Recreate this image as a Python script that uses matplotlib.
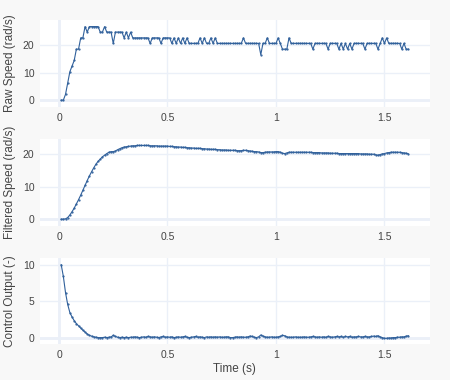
import numpy as np
import matplotlib.pyplot as plt

# time axis, 10 ms sampling
t = np.arange(1, 162) * 0.01

raw_speed = [
    0.0, 0.0, 2.1, 6.2, 10.3, 12.4, 14.4, 18.5, 18.5, 22.6,
    22.6, 26.7, 24.7, 26.7, 26.7, 26.7, 26.7, 26.7, 24.7, 24.7,
    26.7, 24.7, 24.7, 24.7, 20.6, 24.7, 24.7, 24.7, 24.7, 22.6,
    24.7, 22.6, 24.7, 22.6, 22.6, 22.6, 22.6, 22.6, 22.6, 22.6,
    22.6, 20.6, 22.6, 22.6, 22.6, 22.6, 20.6, 22.6, 22.6, 22.6,
    22.6, 20.6, 22.6, 20.6, 22.6, 20.6, 22.6, 20.6, 22.6, 20.6,
    20.6, 20.6, 20.6, 20.6, 22.6, 20.6, 22.6, 20.6, 20.6, 22.6,
    20.6, 22.6, 20.6, 20.6, 20.6, 20.6, 20.6, 20.6, 20.6, 20.6,
    20.6, 20.6, 20.6, 20.6, 22.6, 20.6, 20.6, 20.6, 20.6, 20.6,
    20.6, 20.6, 16.5, 20.6, 20.6, 22.6, 20.6, 20.6, 20.6, 20.6,
    22.6, 20.6, 18.5, 18.5, 18.5, 22.6, 20.6, 20.6, 20.6, 20.6,
    20.6, 20.6, 20.6, 20.6, 20.6, 20.6, 18.5, 20.6, 20.6, 20.6,
    20.6, 20.6, 20.6, 18.5, 20.6, 20.6, 20.6, 20.6, 18.5, 20.6,
    18.5, 20.6, 18.5, 20.6, 18.5, 20.6, 20.6, 20.6, 20.6, 20.6,
    18.5, 20.6, 20.6, 20.6, 20.6, 20.6, 18.5, 20.6, 22.6, 20.6,
    22.6, 20.6, 20.6, 20.6, 20.6, 20.6, 20.6, 18.5, 20.6, 18.5,
    18.5,
]

filtered_speed = [
    0.0, 0.0, 0.1, 0.5, 1.3, 2.3, 3.4, 4.7, 6.0, 7.4,
    8.9, 10.4, 11.9, 13.3, 14.6, 15.8, 16.9, 17.8, 18.5, 19.2,
    19.7, 20.2, 20.6, 20.8, 20.8, 21.0, 21.4, 21.7, 22.0, 22.2,
    22.3, 22.4, 22.5, 22.6, 22.6, 22.7, 22.7, 22.7, 22.7, 22.7,
    22.7, 22.6, 22.6, 22.6, 22.6, 22.5, 22.5, 22.5, 22.5, 22.5,
    22.4, 22.4, 22.3, 22.3, 22.2, 22.2, 22.1, 22.1, 22.0, 22.0,
    21.9, 21.9, 21.8, 21.8, 21.8, 21.7, 21.7, 21.6, 21.6, 21.5,
    21.5, 21.5, 21.4, 21.4, 21.3, 21.3, 21.3, 21.2, 21.2, 21.2,
    21.2, 21.1, 21.1, 21.1, 21.2, 21.2, 21.1, 21.0, 20.9, 20.8,
    20.8, 20.7, 20.5, 20.5, 20.6, 20.7, 20.7, 20.7, 20.7, 20.8,
    20.8, 20.6, 20.3, 20.2, 20.4, 20.6, 20.6, 20.6, 20.6, 20.6,
    20.6, 20.6, 20.6, 20.6, 20.6, 20.6, 20.5, 20.5, 20.5, 20.5,
    20.4, 20.4, 20.4, 20.4, 20.3, 20.3, 20.3, 20.3, 20.2, 20.2,
    20.2, 20.2, 20.2, 20.2, 20.2, 20.2, 20.2, 20.2, 20.1, 20.1,
    20.1, 20.1, 20.0, 20.0, 20.0, 19.8, 19.7, 19.9, 20.1, 20.2,
    20.4, 20.5, 20.6, 20.6, 20.6, 20.6, 20.6, 20.5, 20.4, 20.3,
    20.1,
]

control_output = [
    10.0, 8.4, 6.2, 4.6, 3.5, 2.9, 2.4, 2.0, 1.7, 1.4,
    1.1, 0.85, 0.6, 0.4, 0.3, 0.2, 0.15, 0.1, 0.1, 0.1,
    0.15, 0.1, 0.15, 0.2, 0.4, 0.25, 0.15, 0.1, 0.15, 0.1,
    0.15, 0.1, 0.15, 0.15, 0.2, 0.15, 0.1, 0.15, 0.2, 0.15,
    0.25, 0.2, 0.15, 0.2, 0.15, 0.1, 0.2, 0.25, 0.15, 0.2,
    0.15, 0.2, 0.1, 0.15, 0.2, 0.15, 0.2, 0.25, 0.15, 0.1,
    0.15, 0.2, 0.25, 0.15, 0.2, 0.15, 0.1, 0.2, 0.15, 0.2,
    0.15, 0.2, 0.15, 0.2, 0.15, 0.15, 0.2, 0.2, 0.1, 0.1,
    0.15, 0.2, 0.15, 0.2, 0.15, 0.15, 0.2, 0.3, 0.25, 0.15,
    0.1, 0.2, 0.45, 0.3, 0.2, 0.15, 0.15, 0.2, 0.15, 0.15,
    0.2, 0.25, 0.4, 0.35, 0.2, 0.15, 0.15, 0.15, 0.2, 0.15,
    0.15, 0.15, 0.2, 0.15, 0.15, 0.2, 0.25, 0.2, 0.15, 0.2,
    0.15, 0.2, 0.15, 0.25, 0.2, 0.15, 0.2, 0.25, 0.2, 0.25,
    0.15, 0.25, 0.2, 0.25, 0.15, 0.2, 0.2, 0.25, 0.2, 0.2,
    0.25, 0.2, 0.2, 0.25, 0.3, 0.25, 0.35, 0.2, 0.1, 0.0,
    0.0, 0.05, 0.05, 0.1, 0.1, 0.15, 0.15, 0.2, 0.2, 0.3,
    0.35,
]

series = [
    (raw_speed, 'Raw Speed (rad/s)', [0, 10, 20], (-2.5, 29.1)),
    (filtered_speed, 'Filtered Speed (rad/s)', [0, 10, 20], (-2.1, 24.7)),
    (control_output, 'Control Output (-)', [0, 5, 10], (-0.77, 10.9)),
]

plt.rcParams['font.family'] = ['Liberation Sans', 'DejaVu Sans']

line_color = '#30609b'
grid_color = '#ebf0f8'
text_color = '#444444'

fig = plt.figure(figsize=(4.5, 3.8), dpi=100)
fig.patch.set_facecolor('#f8f8f8')

# axes boxes in figure fractions (left, bottom, width, height)
boxes = [
    (0.0889, 0.7184, 0.8667, 0.2290),
    (0.0889, 0.4053, 0.8667, 0.2290),
    (0.0889, 0.0947, 0.8667, 0.2263),
]

for (vals, label, yticks, ylim), box in zip(series, boxes):
    ax = fig.add_axes(box)
    ax.set_facecolor('white')
    ax.plot(t, vals, color=line_color, lw=0.8, marker='o', ms=0.6,
            mec=line_color, mfc=line_color, zorder=3)
    ax.set_xlim(-0.0876, 1.71)
    ax.set_ylim(*ylim)
    ax.set_xticks([0, 0.5, 1, 1.5])
    ax.set_xticklabels(['0', '0.5', '1', '1.5'])
    ax.set_yticks(yticks)
    ax.grid(True, color=grid_color, lw=1.0, zorder=0)
    ax.axhline(0, color=grid_color, lw=2.0, zorder=1)
    ax.axvline(0, color=grid_color, lw=2.0, zorder=1)
    for s in ax.spines.values():
        s.set_visible(False)
    ax.tick_params(length=0, labelsize=7.5, colors=text_color, pad=4)
    ax.set_ylabel(label, fontsize=8.5, color=text_color, va='center')
    ax.yaxis.set_label_coords(-0.077, 0.5)

fig.text(0.522, 0.03, 'Time (s)', ha='center', va='center',
         fontsize=8.5, color=text_color)

fig.savefig('out.png', dpi=100, facecolor=fig.get_facecolor())
